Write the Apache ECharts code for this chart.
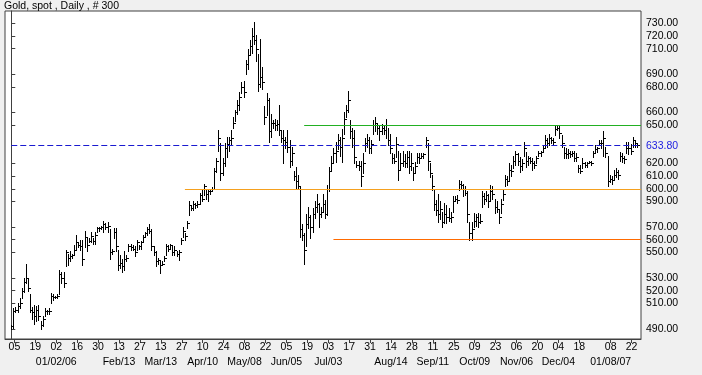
<!DOCTYPE html>
<html>
<head>
<meta charset="utf-8">
<script src="https://cdn.jsdelivr.net/npm/echarts@6/dist/echarts.min.js"></script>
<style>
html,body{margin:0;padding:0;background:#f0f0f0;}
#c{width:702px;height:375px;}
</style>
</head>
<body>
<div id="c"></div>
<script>
const titleText = 'Gold, spot , Daily , # 300';

const high = [
493,506,507,510,514,522,530,541,530,517,
507,509,508,509,496,500,506,505,506,518,
517,516,517,536,535,535,552,549,551,549,
556,564,558,560,560,567,561,561,566,561,
566,570,570,571,575,573,574,568,553,569,
569,552,548,545,551,548,557,557,556,555,
560,556,559,564,566,570,572,568,555,551,
546,544,543,547,557,556,557,556,555,551,
552,561,570,565,575,590,587,590,589,590,
597,600,604,600,600,600,601,616,624,646,
636,624,636,641,641,646,656,662,670,676,
684,685,701,710,717,726,731,721,706,718,
696,665,675,671,659,654,655,654,666,645,
646,641,646,638,633,614,617,611,602,572,
565,580,586,579,585,590,596,589,586,596,
591,603,617,626,632,637,643,641,647,660,
666,677,654,648,646,622,622,622,628,640,
643,641,638,654,656,652,649,651,650,655,
648,643,628,627,641,630,628,630,627,630,
630,628,617,621,628,628,628,628,641,636,
620,611,599,591,596,590,582,589,587,585,
582,594,594,595,607,606,604,602,598,574,
574,581,580,581,580,598,597,598,596,603,
602,592,590,583,592,599,611,610,620,619,
626,630,628,625,623,637,629,626,625,624,
622,626,630,630,634,642,640,643,641,640,
649,650,649,642,633,632,631,630,630,630,
628,619,619,624,621,621,622,622,630,634,
633,638,638,645,633,626,611,610,615,616,
615,629,628,626,637,637,635,641,638,636
];

const low = [
490,491,503,503,506,514,519,526,520,503,
498,494,496,497,490,492,500,502,502,510,
513,514,514,517,526,523,539,540,543,546,
548,552,554,552,540,554,551,558,558,557,
557,566,567,568,566,568,566,545,549,561,
551,536,538,535,536,543,551,552,552,547,
552,553,553,558,562,564,565,552,548,539,
541,534,540,543,548,551,553,548,548,547,
544,557,562,560,569,579,583,583,585,586,
588,590,595,592,590,596,598,600,613,630,
607,611,618,625,630,635,648,653,659,662,
675,672,690,694,705,707,714,700,677,680,
678,651,658,637,641,648,646,646,642,637,
620,632,629,617,619,607,600,600,562,560,
541,555,569,561,566,577,582,570,578,582,
577,579,598,614,620,621,631,626,621,643,
656,660,640,633,620,617,615,602,612,630,
633,628,628,643,645,643,638,643,643,640,
634,628,620,620,625,607,615,618,617,617,
612,615,607,613,620,620,625,624,633,615,
609,599,583,579,574,576,570,573,573,575,
574,582,590,589,599,600,594,595,574,560,
560,570,571,570,573,586,588,590,586,591,
592,581,582,573,581,591,602,603,607,610,
616,619,619,613,615,626,617,619,620,615,
616,620,626,626,629,633,633,634,636,635,
642,646,640,633,624,624,624,625,626,622,
622,613,612,616,617,617,620,619,625,629,
629,635,632,626,625,602,605,604,607,609,
608,622,621,620,628,627,627,633,633,633
];

const close = [
492,504,505,508,510,520,527,530,522,505,
503,500,505,500,493,498,504,504,504,516,
515,515,516,533,530,526,550,546,547,548,
552,558,556,555,545,562,556,559,563,559,
564,569,569,570,572,570,571,550,551,566,
555,540,542,539,545,546,555,554,553,550,
558,555,558,562,565,568,567,555,550,543,
544,540,541,546,555,553,556,550,552,549,
550,560,567,563,573,587,585,588,587,588,
595,592,602,596,598,598,600,614,622,640,
612,620,632,635,638,640,652,660,666,672,
680,676,698,705,712,720,717,710,682,688,
684,656,670,645,652,652,650,651,646,640,
638,637,633,622,628,610,606,602,568,564,
552,572,578,570,580,586,588,580,582,588,
580,600,614,620,628,630,638,633,640,655,
662,670,645,640,625,619,618,610,620,636,
638,632,635,650,652,648,645,648,646,650,
638,632,624,622,635,615,620,622,620,625,
618,620,612,618,625,624,626,627,638,622,
612,602,588,583,580,584,574,580,578,577,
578,590,592,591,604,603,600,597,580,565,
568,575,578,574,575,594,592,595,590,598,
596,586,584,578,588,596,608,606,615,614,
622,627,622,618,620,632,622,624,622,620,
619,624,628,629,632,638,636,640,638,637,
647,648,644,636,628,627,628,627,628,624,
625,616,614,620,619,620,621,620,628,631,
632,636,636,640,628,606,608,607,611,613,
611,626,624,623,632,632,630,638,636,634
];

// x-axis ticks (bar positions) and labels
const tickPos = [1.5,11.5,21.5,31.5,41.5,51.5,61.5,71.5,81.5,91.5,101.5,111.5,121.5,131.5,141.5,151.5,161.5,171.5,181.5,191.5,201.5,211.5,221.5,231.5,241.5,251.5,261.5,271.5,286.5,296.5];
const dayLabels = ['05','19','02','16','30','13','27','13','27','10','24','08','22','05','19','03','17','31','14','28','11','25','09','23','06','20','04','18','08','22'];
const monthPos = [21.5,51.5,71.5,91.5,111.5,131.5,151.5,181.5,201.5,221.5,241.5,261.5,286.5];
const monthLabels = ['01/02/06','Feb/13','Mar/13','Apr/10','May/08','Jun/05','Jul/03','Aug/14','Sep/11','Oct/09','Nov/06','Dec/04','01/08/07'];

// y-axis labels
const yTicks = [730,720,710,690,680,660,650,620,610,600,590,570,560,550,530,520,510,490];
const lastPrice = 633.80;

// horizontal levels: [value, startBar]
const levelGreen = [650, 140];
const levelOrange = [600, 83];
const levelRed = [560, 154];

const FONT = 'Liberation Sans, Arial, sans-serif';
const chart = echarts.init(document.getElementById('c'), null, {renderer:'canvas'});

const ohlc = high.map((h, i) => [i, h, low[i], close[i]]);

function lookup(pos, labels, v) {
  for (let i = 0; i < pos.length; i++) {
    if (Math.abs(pos[i] - v) < 0.01) return labels[i];
  }
  return '';
}

chart.setOption({
  animation: false,
  backgroundColor: '#f0f0f0',
  title: {
    text: titleText, left: 4, top: 1, padding: 0,
    textStyle: {fontFamily: FONT, fontSize: 10.5, fontWeight: 'normal', color: '#000'}
  },
  grid: {left: 5, right: 61, top: 11, bottom: 36, show: true, backgroundColor: '#fff', borderColor: '#404040', borderWidth: 1},
  xAxis: [{
    type: 'value', min: -3, max: 301, position: 'bottom',
    splitLine: {show: false},
    axisLine: {show: true, lineStyle: {color: '#404040'}},
    axisTick: {show: true, customValues: tickPos, length: 4, lineStyle: {color: '#404040'}},
    axisLabel: {
      customValues: tickPos, margin: 3, fontFamily: FONT, fontSize: 10.5, color: '#000',
      showMinLabel: true, showMaxLabel: true, hideOverlap: false,
      formatter: function (v) { return lookup(tickPos, dayLabels, v); }
    }
  }, {
    type: 'value', min: -3, max: 301, position: 'bottom',
    splitLine: {show: false},
    axisLine: {show: false},
    axisTick: {show: false},
    axisLabel: {
      customValues: monthPos, margin: 18, fontFamily: FONT, fontSize: 10.5, color: '#000',
      showMinLabel: true, showMaxLabel: true, hideOverlap: false,
      formatter: function (v) { return lookup(monthPos, monthLabels, v); }
    }
  }],
  yAxis: {
    type: 'value', position: 'right', min: 482, max: 739.6, scale: true,
    splitLine: {show: false},
    axisLine: {show: true, lineStyle: {color: '#404040'}},
    axisTick: {show: true, customValues: yTicks, length: 4, lineStyle: {color: '#404040'}},
    axisLabel: {
      customValues: yTicks.concat([lastPrice]), margin: 5, fontFamily: FONT, fontSize: 10.5, color: '#000',
      showMinLabel: true, showMaxLabel: true,
      formatter: function (v) {
        if (Math.abs(v - lastPrice) < 0.01) return '{b|' + v.toFixed(2) + '}';
        return v.toFixed(2);
      },
      rich: {b: {color: '#1a1ae0', fontFamily: FONT, fontSize: 10.5}}
    }
  },
  series: [{
    type: 'custom',
    clip: true,
    xAxisIndex: 0,
    data: ohlc,
    encode: {x: 0, y: [1, 2, 3]},
    renderItem: function (params, api) {
      const x = api.value(0);
      const pH = api.coord([x, api.value(1)]);
      const pL = api.coord([x, api.value(2)]);
      const pC = api.coord([x, api.value(3)]);
      const X = Math.round(pH[0]);
      const yH = Math.round(pH[1]);
      const yL = Math.round(pL[1]);
      const yC = Math.round(pC[1]);
      return {
        type: 'group',
        children: [
          {type: 'rect', shape: {x: X, y: yH, width: 1, height: Math.max(1, yL - yH + 1)}, style: {fill: '#000'}},
          {type: 'rect', shape: {x: X + 1, y: yC, width: 2, height: 1}, style: {fill: '#000'}}
        ]
      };
    },
    markLine: {
      silent: true, symbol: 'none', animation: false,
      label: {show: false},
      data: [
        [{coord: [levelOrange[1], levelOrange[0]], lineStyle: {color: '#f5a01e', width: 1, type: 'solid'}}, {coord: [301, levelOrange[0]]}],
        [{coord: [levelGreen[1], levelGreen[0]], lineStyle: {color: '#22b022', width: 1, type: 'solid'}}, {coord: [301, levelGreen[0]]}],
        [{coord: [levelRed[1], levelRed[0]], lineStyle: {color: '#ff6a00', width: 1, type: 'solid'}}, {coord: [301, levelRed[0]]}],
        [{coord: [0, lastPrice], lineStyle: {color: '#1a1ad0', width: 1, type: [6, 3]}}, {coord: [299.5, lastPrice]}]
      ]
    }
  }]
});
</script>
</body>
</html>
